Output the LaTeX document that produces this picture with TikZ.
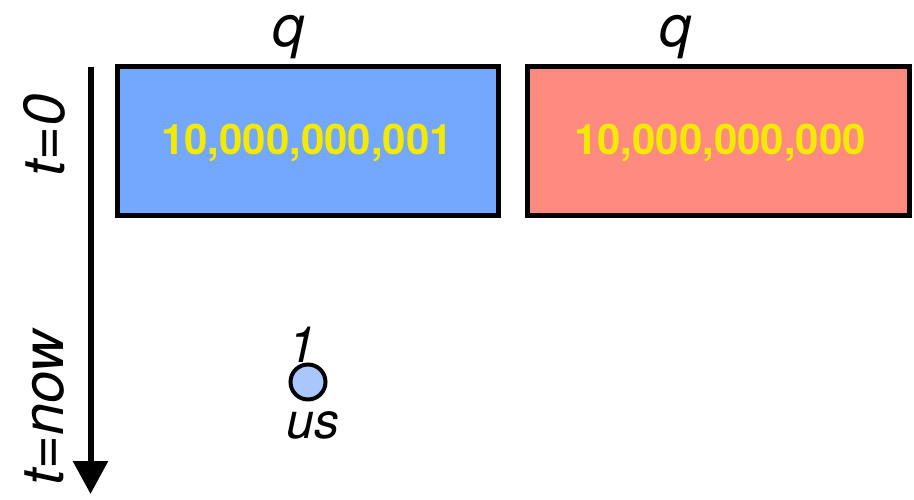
\documentclass[tikz,border=0pt]{standalone}
\usepackage{fontspec}
\setmainfont{TeX Gyre Heros}
\usetikzlibrary{arrows.meta}
\definecolor{boxblue}{HTML}{74A7FE}
\definecolor{boxred}{HTML}{FF8B80}
\definecolor{numyellow}{HTML}{F4EA00}
\definecolor{dotblue}{HTML}{A9C6FD}
\tikzset{
  qbox/.style={draw=black, line width=5pt, rectangle, inner sep=0pt, minimum height=149pt},
  numtext/.style={anchor=base, text=numyellow, font=\fontsize{42}{42}\selectfont\bfseries, inner sep=0pt},
  lbl/.style={anchor=base, font=\fontsize{58}{58}\selectfont\itshape, inner sep=0pt},
  smalllbl/.style={anchor=base, font=\fontsize{50}{50}\selectfont\itshape, inner sep=0pt},
}
\begin{document}
\begin{tikzpicture}[x=1pt,y=-1pt]
\useasboundingbox (0,0) rectangle (914,499);
% boxes
\node[qbox, fill=boxblue, minimum width=381pt] (b1) at (308,141) {};
\node[qbox, fill=boxred, minimum width=381.7pt] (b2) at (718.6,141) {};
\node[numtext] (n1) at (307,154) {10,000,000,001};
\node[numtext] (n2) at (720,154) {10,000,000,000};
\node[lbl] (q1) at (289,46) {q};
\node[lbl] (q2) at (676,46) {q};
% time axis
\coordinate (ttop) at (90.5,67);
\coordinate (tbot) at (90.5,494);
\draw[line width=6pt, -{Triangle[length=33pt,width=34pt]}] (ttop) -- (tbot);
\node[lbl, rotate=90] (t0) at (64,135) {t=0};
\node[lbl, rotate=90] (tn) at (63,408) {t=now};
% dot
\node[circle, draw=black, line width=4pt, fill=dotblue, minimum size=35pt, inner sep=0pt] (dot) at (308,382) {};
\node[smalllbl] (one) at (302,362) {1};
\node[smalllbl] (us) at (313,438) {us};
\end{tikzpicture}
\end{document}
